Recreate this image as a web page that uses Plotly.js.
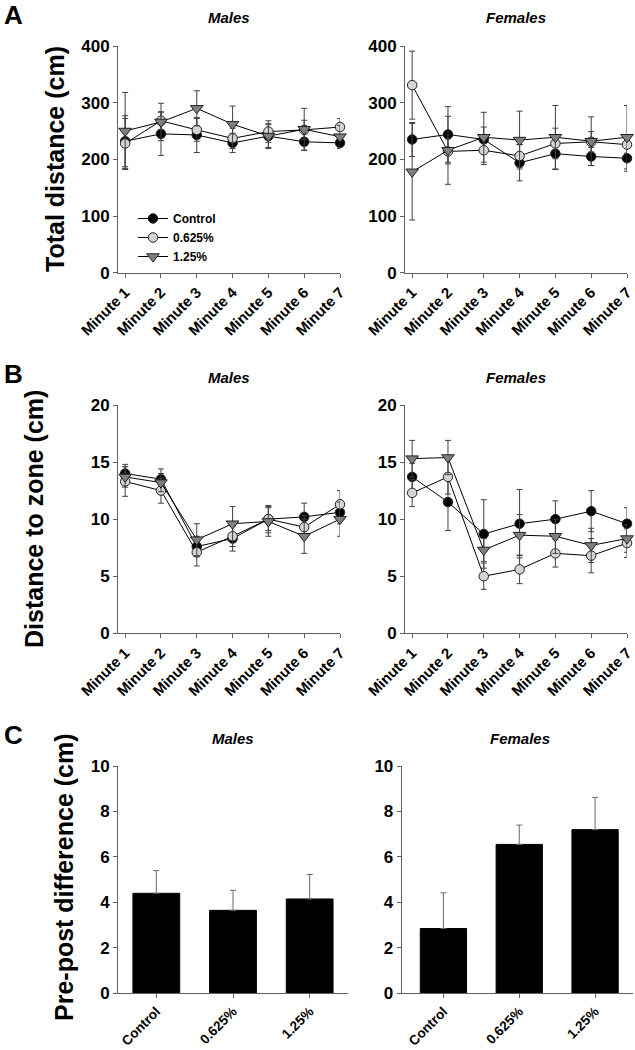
<!DOCTYPE html>
<html>
<head>
<meta charset="utf-8">
<script src="https://cdn.plot.ly/plotly-3.0.1.min.js"></script>
<style>html,body{margin:0;padding:0;background:#fff;}#chart{width:635px;height:1050px;}</style>
</head>
<body>
<div id="chart"></div>
<script>
// ---------- data ----------
const minutes = ['Minute 1','Minute 2','Minute 3','Minute 4','Minute 5','Minute 6','Minute 7'];
const groups = ['Control','0.625%','1.25%'];

// Panel A: total distance (cm)
const distMaleControl = [232, 245, 243, 229, 241, 231, 229];
const distMaleControlErr = [45, 38, 31, 17, 22, 15, 10];
const distMale0625 = [228, 268, 252, 237, 249, 252, 257];
const distMale0625Err = [44, 16, 20, 18, 19, 17, 15];
const distMale125 = [250, 266, 290, 262, 241, 253, 240];
const distMale125Err = [68, 33, 31, 32, 20, 37, 20];

const distFemaleControl = [235, 244, 235, 194, 210, 205, 202];
const distFemaleControlErr = [30, 49, 22, 32, 28, 16, 23];
const distFemale0625 = [331, 214, 216, 206, 228, 231, 226];
const distFemale0625Err = [60, 22, 25, 20, 27, 18, 15];
const distFemale125 = [178, 216, 239, 234, 239, 232, 239];
const distFemale125Err = [85, 60, 44, 51, 56, 43, 56];

// Panel B: distance to zone (cm)
const zoneMaleControl = [14.0, 13.5, 7.6, 8.3, 10.0, 10.2, 10.6];
const zoneMaleControlErr = [0.8, 0.9, 0.9, 1.1, 1.0, 1.2, 1.0];
const zoneMale0625 = [13.3, 12.5, 7.1, 8.5, 10.0, 9.3, 11.3];
const zoneMale0625Err = [1.3, 1.1, 1.2, 0.9, 1.2, 1.0, 1.2];
const zoneMale125 = [13.7, 13.2, 8.2, 9.6, 9.8, 8.5, 10.0];
const zoneMale125Err = [0.9, 0.8, 1.4, 1.5, 1.3, 1.5, 1.5];

const zoneFemaleControl = [13.7, 11.5, 8.7, 9.6, 10.0, 10.7, 9.6];
const zoneFemaleControlErr = [1.2, 2.5, 3.0, 3.0, 1.6, 1.8, 1.4];
const zoneFemale0625 = [12.3, 13.7, 5.0, 5.6, 7.0, 6.8, 7.9];
const zoneFemale0625Err = [1.2, 1.5, 1.15, 1.25, 1.2, 1.5, 1.25];
const zoneFemale125 = [15.3, 15.4, 7.3, 8.6, 8.5, 7.7, 8.3];
const zoneFemale125Err = [1.6, 1.5, 1.0, 1.8, 1.5, 1.5, 1.2];

// Panel C: pre-post difference (cm)
const diffMale = [4.4, 3.65, 4.15];
const diffMaleErr = [1.0, 0.88, 1.08];
const diffFemale = [2.85, 6.55, 7.2];
const diffFemaleErr = [1.57, 0.85, 1.42];

// ---------- styling ----------
const W = 635, H = 1050;
const FONT = 'Liberation Sans, Arial, sans-serif';
const AX = '#606060';
const ERRC = '#404040';
const seriesStyle = [
  {name: 'Control', symbol: 'circle', color: '#000000'},
  {name: '0.625%', symbol: 'circle', color: '#d4d4d4'},
  {name: '1.25%', symbol: 'triangle-down', color: '#7f7f7f'}
];

function px2x(a, b) { return [a / W, b / W]; }
function px2y(top, bottom) { return [1 - bottom / H, 1 - top / H]; }

function lineTrace(vals, errs, k, xa, ya, legend) {
  const s = seriesStyle[k];
  return {
    type: 'scatter', mode: 'lines+markers',
    x: minutes, y: vals, xaxis: xa, yaxis: ya,
    name: s.name, showlegend: legend,
    line: {color: '#000', width: 1},
    marker: {symbol: s.symbol, size: s.symbol === 'circle' ? 9.5 : 11, color: s.color,
             line: {color: '#222', width: 1}},
    error_y: {type: 'data', array: errs, visible: true, color: ERRC, thickness: 1, width: 3},
    cliponaxis: false
  };
}
function barTrace(vals, errs, xa, ya) {
  return {
    type: 'bar', x: groups, y: vals, xaxis: xa, yaxis: ya, showlegend: false,
    width: 0.61,
    marker: {color: '#000', line: {color: '#000', width: 1}},
    error_y: {type: 'data', symmetric: false, array: errs, arrayminus: errs.map(() => 0),
              visible: true, color: '#6a6a6a', thickness: 1, width: 3}
  };
}

const data = [
  lineTrace(distMaleControl, distMaleControlErr, 0, 'x', 'y', true),
  lineTrace(distMale0625, distMale0625Err, 1, 'x', 'y', true),
  lineTrace(distMale125, distMale125Err, 2, 'x', 'y', true),
  lineTrace(distFemaleControl, distFemaleControlErr, 0, 'x2', 'y2', false),
  lineTrace(distFemale0625, distFemale0625Err, 1, 'x2', 'y2', false),
  lineTrace(distFemale125, distFemale125Err, 2, 'x2', 'y2', false),
  lineTrace(zoneMaleControl, zoneMaleControlErr, 0, 'x3', 'y3', false),
  lineTrace(zoneMale0625, zoneMale0625Err, 1, 'x3', 'y3', false),
  lineTrace(zoneMale125, zoneMale125Err, 2, 'x3', 'y3', false),
  lineTrace(zoneFemaleControl, zoneFemaleControlErr, 0, 'x4', 'y4', false),
  lineTrace(zoneFemale0625, zoneFemale0625Err, 1, 'x4', 'y4', false),
  lineTrace(zoneFemale125, zoneFemale125Err, 2, 'x4', 'y4', false),
  barTrace(diffMale, diffMaleErr, 'x5', 'y5'),
  barTrace(diffFemale, diffFemaleErr, 'x6', 'y6')
];

const tickFont = {family: FONT, size: 17, color: '#000', weight: 'bold'};
const catFont = {family: FONT, size: 15, color: '#000', weight: 'bold'};
const barCatFont = {family: FONT, size: 13.5, color: '#000', weight: 'bold'};

function xAxis(domain, anchor, range, font) {
  return {
    domain: domain, anchor: anchor, type: 'category', range: range,
    showline: true, linecolor: AX, linewidth: 1, mirror: false,
    ticks: 'outside', ticklen: 4, tickcolor: AX, tickwidth: 1,
    tickangle: -45, tickfont: font || catFont, showgrid: false, zeroline: false,
    fixedrange: true
  };
}
function yAxis(domain, anchor, range, dtick) {
  return {
    domain: domain, anchor: anchor, range: range, dtick: dtick, tick0: 0,
    showline: true, linecolor: AX, linewidth: 1,
    ticks: 'outside', ticklen: 4, tickcolor: AX, tickwidth: 1,
    tickfont: tickFont, showgrid: false, zeroline: false, fixedrange: true
  };
}

const rowA = px2y(46, 272.7), rowB = px2y(405, 633.3), rowC = px2y(766, 993.3);
const colM = px2x(118, 340), colF = px2x(405, 627);
const colMC = px2x(118, 348), colFC = px2x(401.7, 633);

function ann(text, xpx, ypx, size, opts) {
  return Object.assign({
    text: text, xref: 'paper', yref: 'paper', x: xpx / W, y: 1 - ypx / H,
    xanchor: 'center', yanchor: 'middle', showarrow: false,
    font: {family: FONT, size: size, color: '#000', weight: 'bold'}
  }, opts || {});
}
const subFont = {family: FONT, size: 15, color: '#000', weight: 'bold', style: 'italic'};

const annotations = [
  ann('A', 13, 15, 26),
  ann('B', 13, 374, 26),
  ann('C', 13, 735, 26),
  ann('Males', 229, 17, 15, {font: subFont}),
  ann('Females', 516, 17, 15, {font: subFont}),
  ann('Males', 229, 377, 15, {font: subFont}),
  ann('Females', 516, 377, 15, {font: subFont}),
  ann('Males', 233, 738, 15, {font: subFont}),
  ann('Females', 520, 738, 15, {font: subFont}),
  ann('Total distance (cm)', 55, 159, 25, {textangle: -90}),
  ann('Distance to zone (cm)', 34, 519, 25, {textangle: -90}),
  ann('Pre-post difference (cm)', 64, 877, 25, {textangle: -90})
];

const layout = {
  width: W, height: H,
  margin: {l: 0, r: 0, t: 0, b: 0},
  paper_bgcolor: '#fff', plot_bgcolor: 'rgba(0,0,0,0)',
  font: {family: FONT, color: '#000'},
  showlegend: true,
  legend: {
    x: 133 / W, y: 1 - 204 / H, xanchor: 'left', yanchor: 'top',
    bgcolor: 'rgba(0,0,0,0)', borderwidth: 0,
    font: {family: FONT, size: 12, color: '#000', weight: 'bold'},
    tracegroupgap: 0, itemwidth: 30
  },
  xaxis: xAxis(colM, 'y', [-0.2, 6.0]),
  yaxis: yAxis(rowA, 'x', [0, 400], 100),
  xaxis2: xAxis(colF, 'y2', [-0.2, 6.0]),
  yaxis2: yAxis(rowA, 'x2', [0, 400], 100),
  xaxis3: xAxis(colM, 'y3', [-0.2, 6.0]),
  yaxis3: yAxis(rowB, 'x3', [0, 20], 5),
  xaxis4: xAxis(colF, 'y4', [-0.2, 6.0]),
  yaxis4: yAxis(rowB, 'x4', [0, 20], 5),
  xaxis5: xAxis(colMC, 'y5', [-0.5, 2.5], barCatFont),
  yaxis5: yAxis(rowC, 'x5', [0, 10], 2),
  xaxis6: xAxis(colFC, 'y6', [-0.55, 2.5], barCatFont),
  yaxis6: yAxis(rowC, 'x6', [0, 10], 2),
  annotations: annotations
};

Plotly.newPlot('chart', data, layout, {displayModeBar: false, staticPlot: true});
</script>
</body>
</html>
